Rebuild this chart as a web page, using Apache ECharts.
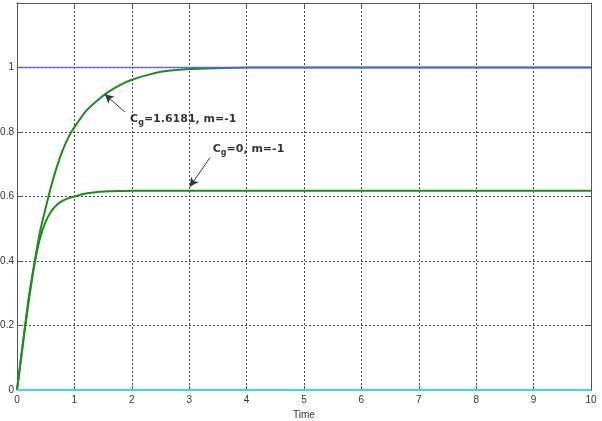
<!DOCTYPE html>
<html><head><meta charset="utf-8">
<script src="https://cdn.jsdelivr.net/npm/echarts@6/dist/echarts.min.js"></script>
<style>html,body{margin:0;padding:0;background:#fff}#c{width:602px;height:421px}</style>
</head><body><div id="c"></div>
<script>
// Time samples and responses
var tCg1 = [0,0.1,0.2,0.3,0.4,0.5,0.6,0.7,0.8,0.9,1.0,1.2,1.4,1.6,1.8,2.0,2.3,2.6,3.0,3.5,4,5,6,7,8,9,10];
var yCg1 = [0,0.14,0.28,0.39,0.49,0.565,0.635,0.695,0.745,0.785,0.815,0.865,0.898,0.925,0.946,0.962,0.978,0.989,0.995,0.998,1,1,1,1,1,1,1];
var tCg0 = [0,0.1,0.2,0.3,0.4,0.5,0.6,0.7,0.8,0.9,1.0,1.2,1.4,1.6,1.8,2.0,2.5,3,4,5,6,7,8,9,10];
var yCg0 = [0,0.14,0.27,0.385,0.47,0.522,0.555,0.575,0.587,0.595,0.60,0.609,0.614,0.616,0.617,0.618,0.618,0.618,0.618,0.618,0.618,0.618,0.618,0.618,0.618];
var refT = [0,10];
var refOne = [1,1];
var refZero = [0,0];
var xTicks = [0,1,2,3,4,5,6,7,8,9,10];
var yTicks = [0,0.2,0.4,0.6,0.8,1];
// annotations: text anchor, arrow tail, arrow head (data coordinates)
var ann1 = {label:'1.6181, m=-1', at:[1.97,0.84], tail:[1.88,0.862], head:[1.53,0.917]};
var ann2 = {label:'0, m=-1', at:[3.41,0.747], tail:[3.36,0.72], head:[3.01,0.63]};

function zip(a,b){return a.map(function(v,i){return [v,b[i]];});}

var chart = echarts.init(document.getElementById('c'));
var labelFont = {fontFamily:'Liberation Sans, Arial', fontSize:10, color:'#333'};
var annRich = {
  c:{fontFamily:'DejaVu Sans',fontWeight:'bold',fontSize:11,color:'#000'},
  s:{fontFamily:'DejaVu Sans',fontWeight:'bold',fontSize:8,color:'#000',padding:[7,0,0,0]}
};
function annLabel(a){return '{c|C}{s|g}{c|=' + a.label + '}';}

chart.setOption({
  animation:false,
  grid:{left:17,right:11,top:3,bottom:31,containLabel:false,outerBoundsMode:'none'},
  xAxis:[{
    type:'value',min:0,max:10,interval:1,
    name:'Time',nameLocation:'middle',nameGap:16,
    nameTextStyle:{fontFamily:'Liberation Sans, Arial',fontSize:10,color:'#333'},
    axisLine:{show:true,onZero:false,lineStyle:{color:'#555',width:1}},
    axisTick:{show:true,inside:true,length:4,lineStyle:{color:'#555'}},
    axisLabel:Object.assign({margin:5,formatter:function(v){return xTicks.indexOf(v)>=0?String(v):'';}},labelFont),
    splitLine:{show:true,lineStyle:{color:'#444',type:[2,2],width:1}}
  },{
    type:'value',min:0,max:10,interval:1,position:'top',
    axisLine:{show:true,onZero:false,lineStyle:{color:'#555',width:1}},
    axisTick:{show:true,inside:true,length:4,lineStyle:{color:'#555'}},
    axisLabel:{show:false},splitLine:{show:false}
  }],
  yAxis:[{
    type:'value',min:0,max:1.2,interval:0.2,
    axisLine:{show:true,onZero:false,lineStyle:{color:'#555',width:1}},
    axisTick:{show:true,inside:true,length:4,lineStyle:{color:'#555'}},
    axisLabel:Object.assign({margin:3,formatter:function(v){
      var r = Math.round(v*10)/10; return yTicks.indexOf(r)>=0 ? String(r) : '';}},labelFont),
    splitLine:{show:true,lineStyle:{color:'#444',type:[2,2],width:1}}
  },{
    type:'value',min:0,max:1.2,interval:0.2,position:'right',
    axisLine:{show:true,onZero:false,lineStyle:{color:'#555',width:1}},
    axisTick:{show:true,inside:true,length:4,lineStyle:{color:'#555'}},
    axisLabel:{show:false},splitLine:{show:false}
  }],
  series:[
    {type:'line',name:'Cg=0',data:zip(tCg0,yCg0),showSymbol:false,smooth:0.25,
     lineStyle:{color:'#1e8c1e',width:2},z:3},
    {type:'line',name:'Cg=1.6181',data:zip(tCg1,yCg1),showSymbol:false,smooth:0.25,
     lineStyle:{color:'#1e8c1e',width:2},z:3},
    {type:'line',name:'one',data:zip(refT,refOne),showSymbol:false,
     lineStyle:{color:'#5a5aff',width:1.5,opacity:0.85},z:4},
    {type:'line',name:'zero',data:zip(refT,refZero),showSymbol:false,
     lineStyle:{color:'#30e0e0',width:2},z:4},
    {type:'scatter',name:'ann',symbolSize:0,z:5,silent:true,
     data:[{value:ann1.at,label:{formatter:annLabel(ann1)}},{value:ann2.at,label:{formatter:annLabel(ann2)}}],
     label:{show:true,position:'right',distance:0,rich:annRich},
     markLine:{silent:true,symbol:['none','arrow'],symbolSize:[7,9],
       lineStyle:{color:'#333',width:1,type:'solid'},label:{show:false},
       data:[[{coord:ann1.tail},{coord:ann1.head}],[{coord:ann2.tail},{coord:ann2.head}]]}}
  ]
});
</script></body></html>
